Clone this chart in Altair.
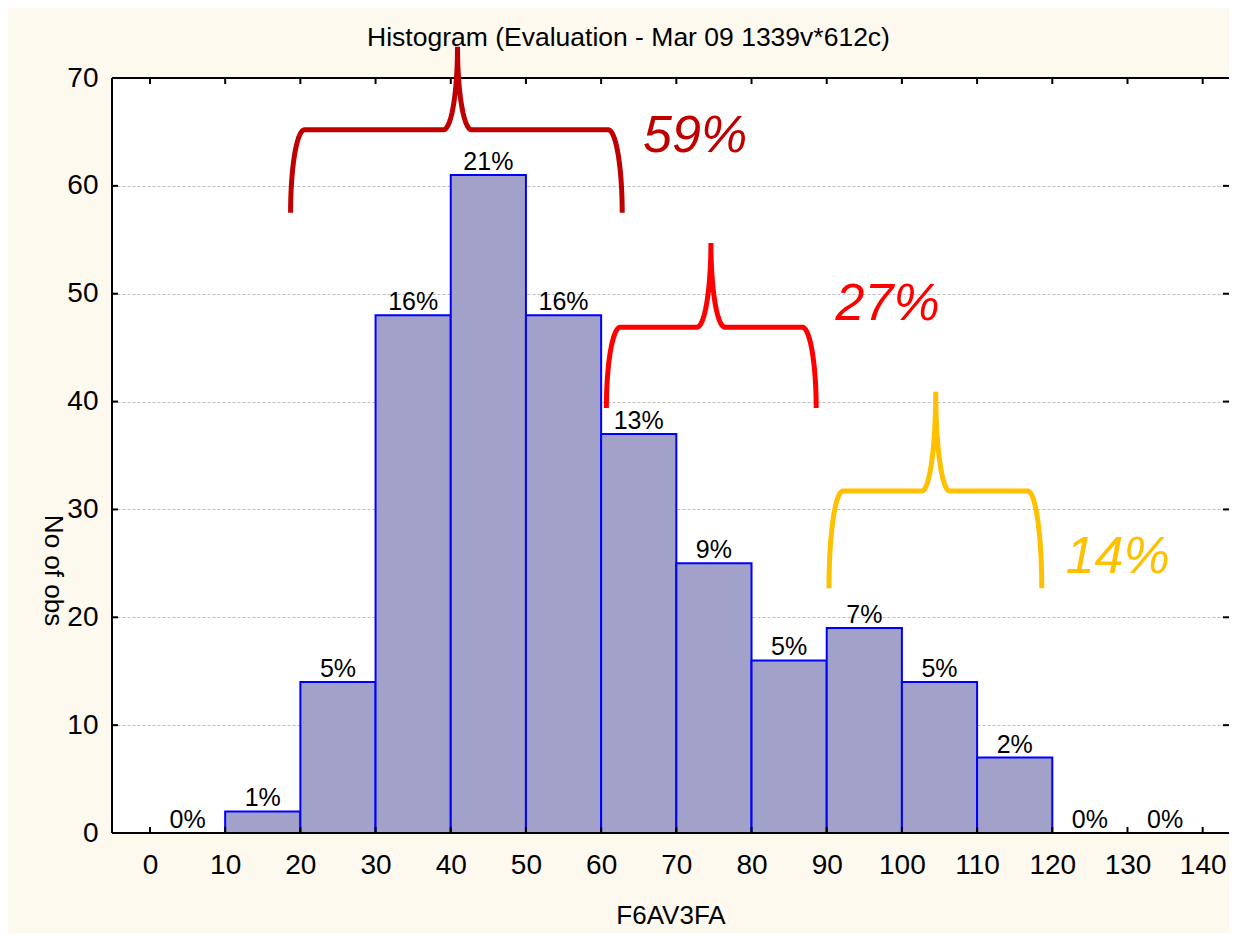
import altair as alt
import numpy as np
import pandas as pd

# ---- data ----
bin_start = [0, 10, 20, 30, 40, 50, 60, 70, 80, 90, 100, 110, 120, 130]
bin_end = [10, 20, 30, 40, 50, 60, 70, 80, 90, 100, 110, 120, 130, 140]
counts = [0, 2, 14, 48, 61, 48, 37, 25, 16, 19, 14, 7, 0, 0]
pct_labels = ["0%", "1%", "5%", "16%", "21%", "16%", "13%", "9%", "5%", "7%", "5%", "2%", "0%", "0%"]
x_ticks = [0, 10, 20, 30, 40, 50, 60, 70, 80, 90, 100, 110, 120, 130, 140]
y_ticks = [0, 10, 20, 30, 40, 50, 60, 70]
chart_title = ["Histogram (Evaluation - Mar 09 1339v*612c)"]

# ---- annotation braces (data units) ----
brace_names = ["59%", "27%", "14%"]
brace_colors = ["#C00000", "#FF0000", "#FFC000"]
brace_left = [18.7, 60.7, 90.3]
brace_tip_x = [40.9, 74.6, 104.5]
brace_right = [62.8, 88.6, 118.6]
brace_bottom = [57.5, 39.4, 22.7]
brace_level = [65.2, 46.9, 31.7]
brace_top = [72.9, 54.7, 40.9]
ann_x = [72.5, 98.1, 128.7]
ann_y = [63.1, 47.6, 24.1]

FONT = "Liberation Sans"
W, H = 1117, 755
XDOM = [-5.05, 143.5]
YDOM = [0, 70]

bars_df = pd.DataFrame({"start": bin_start, "end": bin_end, "count": counts, "label": pct_labels})


def brace_points(xl, xt, xr, yb, yh, yt, rx=1.86, n=30):
    t = np.linspace(0, np.pi / 2, n)
    xs, ys = [], []
    xs += list(xl + rx - rx * np.cos(t)); ys += list(yb + (yh - yb) * np.sin(t))
    xs += list(xt - rx + rx * np.sin(t)); ys += list(yt - (yt - yh) * np.cos(t))
    xs += list(xt + rx - rx * np.cos(t)); ys += list(yt - (yt - yh) * np.sin(t))
    xs += list(xr - rx + rx * np.sin(t)); ys += list(yb + (yh - yb) * np.cos(t))
    return xs, ys


rows = []
for i, name in enumerate(brace_names):
    xs, ys = brace_points(brace_left[i], brace_tip_x[i], brace_right[i],
                          brace_bottom[i], brace_level[i], brace_top[i])
    for k, (a, b) in enumerate(zip(xs, ys)):
        rows.append({"brace": name, "i": k, "x": a, "y": b})
brace_df = pd.DataFrame(rows)
ann_df = pd.DataFrame({"brace": brace_names, "x": ann_x, "y": ann_y})

xscale = alt.Scale(domain=XDOM, nice=False, zero=False)
yscale = alt.Scale(domain=YDOM, nice=False, zero=True)
cscale = alt.Scale(domain=brace_names, range=brace_colors)

x_axis = alt.Axis(values=x_ticks, labelFontSize=28, labelPadding=18, ticks=False, domain=False,
                  grid=False, labelOverlap=False, labelFlush=False, labelColor="black",
                  labelFont=FONT, title="F6AV3FA", titleFont=FONT, titleFontSize=26,
                  titleFontWeight="normal", titleColor="black", titleBaseline="alphabetic",
                  titleY=90)
y_axis = alt.Axis(values=y_ticks, labelFontSize=28, labelPadding=14, ticks=False, domain=False,
                  grid=True, gridColor="#BDBDBD", gridDash=[3, 2], gridWidth=1,
                  labelColor="black", labelFont=FONT, title="No of obs", titleFont=FONT,
                  titleFontSize=26, titleFontWeight="normal", titleColor="black",
                  titleAngle=90, titleX=-60, titleY=492, titleBaseline="middle", titleAlign="center")


def X(field):
    return alt.X(field, scale=xscale, axis=x_axis)


def Y(field):
    return alt.Y(field, scale=yscale, axis=y_axis)


bars = alt.Chart(bars_df).mark_bar(fill="#A1A1CA", stroke="#0000FF", strokeWidth=2).encode(
    x=X("start:Q"),
    x2="end:Q",
    y=Y("count:Q"),
    y2=alt.Y2(datum=0),
)

bar_text = alt.Chart(bars_df).transform_calculate(mid="(datum.start + datum.end) / 2").mark_text(
    fontSize=25, font=FONT, color="black", baseline="alphabetic", dy=-5
).encode(
    x=X("mid:Q"),
    y=Y("count:Q"),
    text="label:N",
)

xt_df = pd.DataFrame({"v": x_ticks})
yt_df = pd.DataFrame({"v": y_ticks})
tick_style = dict(color="black", strokeWidth=2)
ticks_bottom = alt.Chart(xt_df).mark_rule(**tick_style).encode(
    x=X("v:Q"), y=alt.value(H), y2=alt.value(H - 6))
ticks_top = alt.Chart(xt_df).mark_rule(**tick_style).encode(
    x=X("v:Q"), y=alt.value(0), y2=alt.value(6))
ticks_left = alt.Chart(yt_df).mark_rule(**tick_style).encode(
    y=Y("v:Q"), x=alt.value(0), x2=alt.value(6))
ticks_right = alt.Chart(yt_df).mark_rule(**tick_style).encode(
    y=Y("v:Q"), x=alt.value(W), x2=alt.value(W - 6))
# frame: bottom, top (horizontal) and left (vertical); right edge runs off the page
frame_h = alt.Chart(pd.DataFrame({"v": [y_ticks[0], y_ticks[-1]]})).mark_rule(
    color="black", strokeWidth=2).encode(y=Y("v:Q"), x=alt.value(0), x2=alt.value(W))
frame_v = alt.Chart(pd.DataFrame({"v": [y_ticks[0]]})).mark_rule(
    color="black", strokeWidth=2).encode(x=alt.value(0), y=alt.value(0), y2=alt.value(H))

braces = alt.Chart(brace_df).mark_line(strokeWidth=5, strokeCap="butt", clip=False).encode(
    x=X("x:Q"),
    y=Y("y:Q"),
    color=alt.Color("brace:N", scale=cscale, legend=None),
    detail="brace:N",
    order="i:Q",
)

ann = alt.Chart(ann_df).mark_text(fontSize=52, font=FONT, fontStyle="italic",
                                  baseline="alphabetic", align="center").encode(
    x=X("x:Q"),
    y=Y("y:Q"),
    text="brace:N",
    color=alt.Color("brace:N", scale=cscale, legend=None),
)

title_text = alt.Chart(pd.DataFrame({"t": chart_title})).mark_text(
    fontSize=26.5, font=FONT, color="black", baseline="alphabetic", align="center"
).encode(
    x=alt.value(W / 2 - 42),
    y=alt.value(-32),
    text="t:N",
)

chart = alt.layer(
    bars, bar_text, frame_h, frame_v, ticks_bottom, ticks_top, ticks_left, ticks_right,
    braces, ann, title_text
).properties(
    width=W, height=H,
    autosize=alt.AutoSizeParams(type="none"),
    padding={"left": 104, "top": 70, "right": 0, "bottom": 100},
).configure(background="#FEF9EE").configure_view(fill="white", strokeWidth=0)

chart.save("out.html", embed_options={"renderer": "svg", "actions": False})
